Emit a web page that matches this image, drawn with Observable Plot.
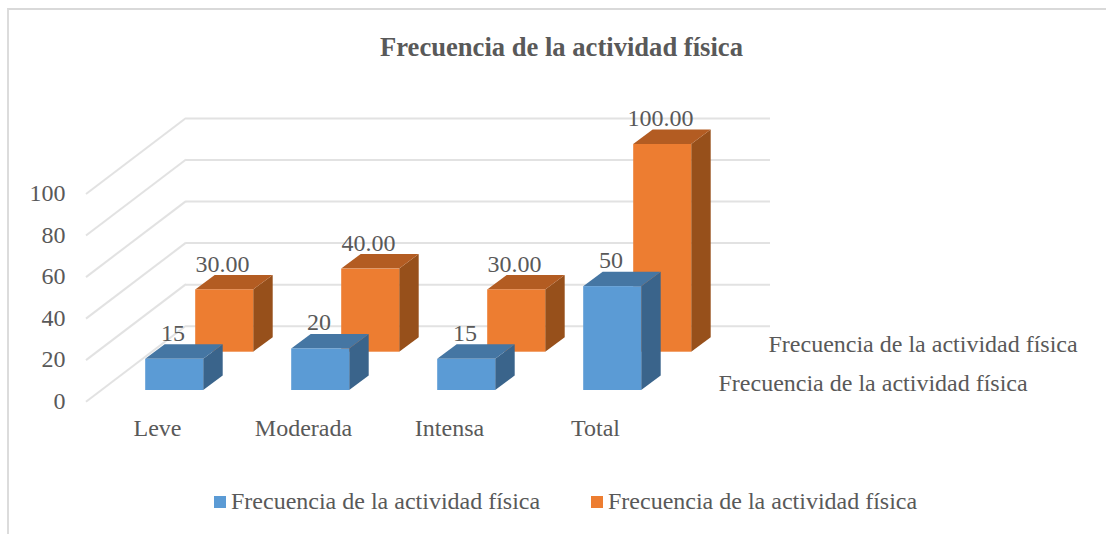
<!DOCTYPE html>
<html><head><meta charset="utf-8">
<script src="https://cdn.jsdelivr.net/npm/d3@7"></script>
<script src="https://cdn.jsdelivr.net/npm/@observablehq/plot@0.6"></script>
<style>
html,body{margin:0;padding:0;background:#fff}
#frame{position:relative;width:1106px;height:534px;overflow:hidden;font-family:"Liberation Serif",serif;color:#595959}
#frame:before{content:"";position:absolute;left:7px;top:8px;right:0;bottom:0;border-left:2px solid #dcdcdc;border-top:2px solid #d9d9d9}
#title{position:absolute;left:0;width:1123px;top:31px;text-align:center;font-weight:bold;font-size:26.6px;line-height:32px}
#chart{position:absolute;left:0;top:85px}
#legend{position:absolute;top:487px;left:0;font-size:24px;line-height:28px}
#legend span{position:absolute;white-space:nowrap}
#legend i{position:absolute;width:12px;height:12px;top:9px}
</style></head><body>
<div id="frame">
<div id="title">Frecuencia de la actividad física</div>
<div id="chart"></div>
<div id="legend"></div>
</div>
<script>
const categories = ["Leve", "Moderada", "Intensa", "Total"];
const seriesBlue = [15, 20, 15, 50];
const seriesOrange = [30, 40, 30, 100];
const yTicks = [0, 20, 40, 60, 80, 100];
const seriesName = "Frecuencia de la actividad física";

const font = '"Liberation Serif", serif';
const ink = "#595959";
const grid = "#e2e2e2";
const wall = {dx: 100, dy: -76};
const blue = {dx: 15.2, dy: -11.7, front: "#5b9bd5", top: "#4576a3", side: "#3a648b"};
const orange = {dx: 65.2, dy: -50, front: "#ed7d31", top: "#b35c22", side: "#97501b"};
const depth = {dx: 19.5, dy: -14.5};
const inset = 44;

const rows = s => categories.map((c, i) => ({c, v: s[i]}));

function faces(data, layer) {
  return (index, {x, y}) => {
    const g = d3.create("svg:g");
    for (const d of data) {
      const x0 = x(d.c) + inset + layer.dx;
      const x1 = x(d.c) + x.bandwidth() - inset + layer.dx;
      const yb = y(0) + layer.dy;
      const yt = y(d.v) + layer.dy;
      const a = depth.dx, b = depth.dy;
      g.append("polygon").attr("fill", layer.side)
        .attr("points", [[x1,yt],[x1+a,yt+b],[x1+a,yb+b],[x1,yb]].join(" "));
      g.append("polygon").attr("fill", layer.top)
        .attr("points", [[x0,yt],[x0+a,yt+b],[x1+a,yt+b],[x1,yt]].join(" "));
    }
    return g.node();
  };
}
function wallLines(index, {x, y}) {
  const g = d3.create("svg:g");
  const x0 = x.range()[0];
  for (const t of yTicks) {
    g.append("line").attr("x1", x0).attr("y1", y(t))
      .attr("x2", x0 + wall.dx).attr("y2", y(t) + wall.dy)
      .attr("stroke", grid).attr("stroke-width", 2);
  }
  return g.node();
}
function bars(data, layer) {
  return Plot.barY(data, {x: "c", y: "v", fill: layer.front, dx: layer.dx, dy: layer.dy, insetLeft: inset, insetRight: inset});
}

const plot = Plot.plot({
  width: 1106, height: 360,
  marginLeft: 86, marginRight: 436, marginTop: 109, marginBottom: 43.3,
  style: {fontFamily: font, fontSize: "24px", color: ink, background: "transparent", overflow: "visible"},
  x: {domain: categories, padding: 0, label: null},
  y: {domain: [0, 100], label: null},
  marks: [
    Plot.ruleY(yTicks, {stroke: grid, strokeWidth: 2, dx: wall.dx, dy: wall.dy}),
    wallLines,
    Plot.axisY({ticks: yTicks, tickSize: 0, tickPadding: 21, label: null, fontSize: 24, fill: ink, dy: -1}),
    Plot.axisX({tickSize: 0, tickPadding: 17, label: null, fontSize: 24, fill: ink, dx: -2}),
    faces(rows(seriesOrange), orange),
    bars(rows(seriesOrange), orange),
    faces(rows(seriesBlue), blue),
    bars(rows(seriesBlue), blue),
    Plot.text(rows(seriesOrange), {x: "c", y: "v", text: d => d.v.toFixed(2), dx: 63, dy: -76, fontSize: 24, fill: ink}),
    Plot.text(rows(seriesBlue), {x: "c", y: "v", text: d => String(d.v), dx: 13.5, dy: -38, fontSize: 24, fill: ink}),
    Plot.text([seriesName], {x: () => "Total", y: () => 0, text: d => d, textAnchor: "start", dx: 171, dy: -57.7, fontSize: 24, fill: ink}),
    Plot.text([seriesName], {x: () => "Total", y: () => 0, text: d => d, textAnchor: "start", dx: 121, dy: -18.7, fontSize: 24, fill: ink})
  ]
});
document.getElementById("chart").append(plot);

const legend = d3.select("#legend");
[[214, 231, blue.front], [591, 608, orange.front]].forEach(([sx, tx, col]) => {
  legend.append("i").style("left", sx + "px").style("background", col);
  legend.append("span").style("left", tx + "px").text(seriesName);
});
</script>
</body></html>
